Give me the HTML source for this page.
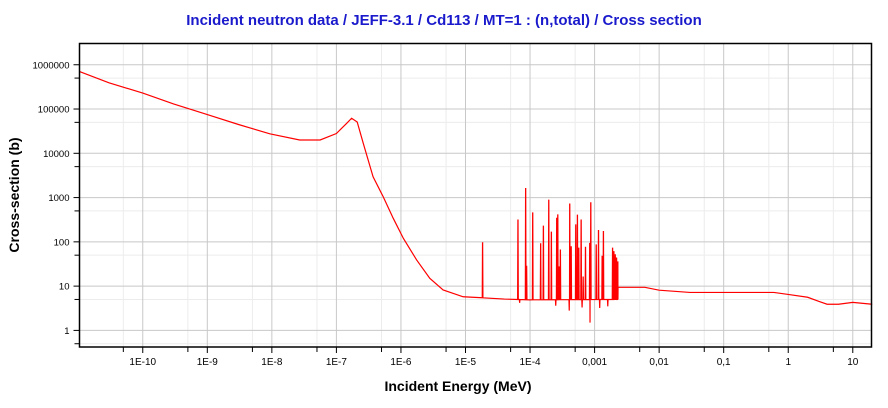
<!DOCTYPE html>
<html><head><meta charset="utf-8"><style>
body{margin:0;background:#fff;width:888px;height:403px;overflow:hidden;font-family:"Liberation Sans",Arial,sans-serif}
</style></head><body>
<svg id="chart" width="888" height="403" xmlns="http://www.w3.org/2000/svg">
<text x="444" y="25" text-anchor="middle" font-size="15" font-weight="bold" fill="#1a1acc">Incident neutron data / JEFF-3.1 / Cd113 / MT=1 : (n,total) / Cross section</text>
<g id="grid"></g>
<g id="axes"></g>
<path id="curve" fill="none" stroke="#ff0000" stroke-width="1.2"/>
<rect x="79.5" y="43.5" width="792" height="303.5" fill="none" stroke="#000" stroke-width="1.5"/>
<text transform="translate(19,195) rotate(-90)" text-anchor="middle" font-size="14" font-weight="bold">Cross-section (b)</text>
<text x="458" y="391" text-anchor="middle" font-size="14" font-weight="bold">Incident Energy (MeV)</text>
</svg>
<script>
// baseline (smooth) curve: energy (MeV), cross-section (b)
const baseE = [1.05e-11,3e-11,1e-10,3e-10,1e-9,3e-9,9.3e-9,2.7e-8,5.6e-8,1e-7,1.45e-7,1.72e-7,2.1e-7,2.6e-7,3.7e-7,5.3e-7,7.6e-7,1.09e-6,1.75e-6,2.8e-6,4.5e-6,9.2e-6,1.67e-5,4e-5,1e-4,2.3e-3,2.31e-3,6e-3,1e-2,3e-2,0.6,1,2,3,4,6,10,20];
const baseXS = [7e5,3.9e5,2.3e5,1.3e5,7.5e4,4.5e4,2.75e4,2e4,2e4,2.8e4,4.8e4,6.2e4,5.1e4,1.7e4,2950,1050,340,120,39,15,8.2,5.75,5.5,5.1,4.9,5.0,9.4,9.4,8.1,7.2,7.2,6.5,5.6,4.5,3.9,3.9,4.3,3.9];
// resonances
const resE = [1.84e-5,6.5e-5,8.55e-5,8.85e-5,1.10e-4,1.46e-4,1.61e-4,1.95e-4,2.14e-4,2.59e-4,2.69e-4,2.82e-4,2.95e-4,4.12e-4,4.34e-4,5.11e-4,5.42e-4,5.69e-4,6.19e-4,6.65e-4,7.23e-4,8.41e-4,8.73e-4,1.06e-3,1.15e-3,1.31e-3,1.37e-3,1.90e-3,1.99e-3,2.09e-3,2.19e-3,2.29e-3];
const resPeak = [95,310,1600,28,450,90,225,870,165,340,405,27,65,710,77,240,400,72,310,16,75,95,760,85,180,47,170,72,60,51,43,35];
const dipE = [6.9e-5,2.5e-4,4.05e-4,6.4e-4,8.5e-4,1.2e-3,1.6e-3];
const dipXS = [4.2,3.6,2.8,3.3,1.5,3.2,3.5];
const yTicks = [1,10,100,1000,10000,100000,1000000];
const yTickLabels = ["1","10","100","1000","10000","100000","1000000"];
const xTicks = [1e-10,1e-9,1e-8,1e-7,1e-6,1e-5,1e-4,1e-3,1e-2,0.1,1,10];
const xTickLabels = ["1E-10","1E-9","1E-8","1E-7","1E-6","1E-5","1E-4","0,001","0,01","0,1","1","10"];

const L=79.5,R=871.5,T=43.5,B=347;
const xMin=-10.98,xMax=1.29,yMin=-0.375,yMax=6.48;
const X=e=>L+(Math.log10(e)-xMin)/(xMax-xMin)*(R-L);
const Y=v=>B-(Math.log10(v)-yMin)/(yMax-yMin)*(B-T);
const NS="http://www.w3.org/2000/svg";
function mk(tag,attrs,parent){const el=document.createElementNS(NS,tag);for(const k in attrs)el.setAttribute(k,attrs[k]);parent.appendChild(el);return el;}
const grid=document.getElementById('grid'),axes=document.getElementById('axes');
function baseAt(e){const l=Math.log10(e);for(let i=0;i<baseE.length-1;i++){const a=Math.log10(baseE[i]),b=Math.log10(baseE[i+1]);if(l>=a&&l<=b){const t=(l-a)/(b-a||1);return Math.pow(10,Math.log10(baseXS[i])+t*(Math.log10(baseXS[i+1])-Math.log10(baseXS[i])));}}return baseXS[baseXS.length-1];}
// grid
for(let d=-11;d<=1;d++){
  const m=5*Math.pow(10,d);
  if(X(m)>L&&X(m)<R){const g=mk('line',{x1:X(m),x2:X(m),y1:T,y2:B,stroke:'#ececec'},grid);
   const t=mk('line',{x1:X(m),x2:X(m),y1:B,y2:B+5,stroke:'#000'},axes);}
}
for(let d=-1;d<=6;d++){
  const m=5*Math.pow(10,d);
  if(Y(m)>T&&Y(m)<B){const g=mk('line',{x1:L,x2:R,y1:Y(m),y2:Y(m),stroke:'#ececec'},grid);
   const t=mk('line',{x1:L-5,x2:L,y1:Y(m),y2:Y(m),stroke:'#000'},axes);}
}
xTicks.forEach((v,i)=>{const x=X(v);
 const g=mk('line',{x1:x,x2:x,y1:T,y2:B,stroke:'#c8c8c8'},grid);
 const t=mk('line',{x1:x,x2:x,y1:B,y2:B+6,stroke:'#000'},axes);
 const tx=mk('text',{x:x,y:B+18,'text-anchor':'middle','font-size':'10'},axes);tx.textContent=xTickLabels[i];});
yTicks.forEach((v,i)=>{const y=Y(v);
 const g=mk('line',{x1:L,x2:R,y1:y,y2:y,stroke:'#c8c8c8'},grid);
 const t=mk('line',{x1:L-6,x2:L,y1:y,y2:y,stroke:'#000'},axes);
 const tx=mk('text',{x:L-10,y:y+3.5,'text-anchor':'end','font-size':'9.5'},axes);tx.textContent=yTickLabels[i];});
// curve
let pts=baseE.map((e,i)=>[e,baseXS[i]]);
resE.forEach((e,i)=>{const f=1.012;pts.push([e/f,baseAt(e/f)],[e/1.002,resPeak[i]],[e*1.002,resPeak[i]],[e*f,baseAt(e*f)]);});
dipE.forEach((e,i)=>{const f=1.01;pts.push([e/f,baseAt(e/f)],[e,dipXS[i]],[e*f,baseAt(e*f)]);});
pts.sort((a,b)=>a[0]-b[0]);
let d='';pts.forEach((p,i)=>{d+=(i?'L':'M')+X(p[0]).toFixed(2)+','+Y(p[1]).toFixed(2);});
document.getElementById('curve').setAttribute('d',d);
</script>
</body></html>
